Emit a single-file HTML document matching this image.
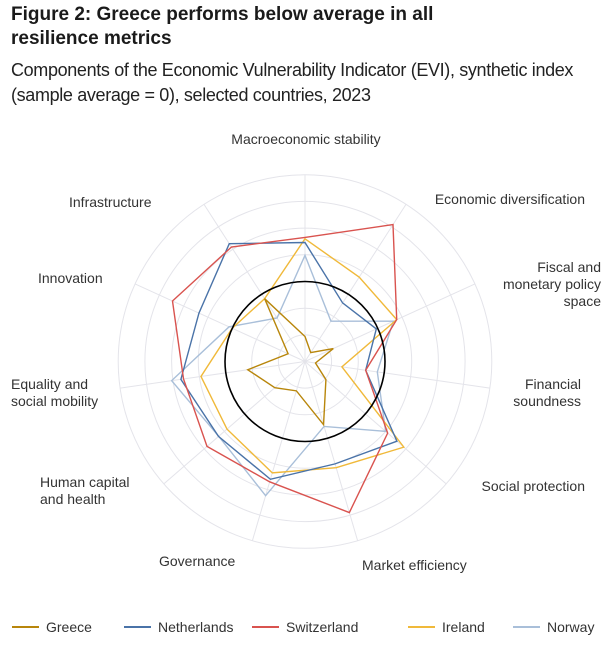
<!DOCTYPE html>
<html><head><meta charset="utf-8"><style>
body{margin:0;width:614px;height:663px;background:#fff;font-family:"Liberation Sans",sans-serif;overflow:hidden;position:relative}
.t{position:absolute;left:11px;top:3px;font-size:19px;font-weight:bold;line-height:24px;color:#1a1a1a}
.s{position:absolute;left:11px;top:58px;font-size:18px;letter-spacing:-0.35px;line-height:25px;color:#222;white-space:nowrap}
svg{position:absolute;left:0;top:0}
text{font-family:"Liberation Sans",sans-serif;font-size:14px;fill:#333}
</style></head><body>
<div class="t">Figure 2: Greece performs below average in all<br>resilience metrics</div>
<div class="s">Components of the Economic Vulnerability Indicator (EVI), synthetic index<br>(sample average = 0), selected countries, 2023</div>
<svg id="c" width="614" height="663"></svg>
<script>
const categories=["Macroeconomic stability","Economic diversification","Fiscal and monetary policy space","Financial soundness","Social protection","Market efficiency","Governance","Human capital and health","Equality and social mobility","Innovation","Infrastructure"];
const greece=[-2.06,-2.6,-1.83,-2.6,-1.96,-0.53,-1.85,-1.5,-0.83,-2.3,-0.2];
const netherlands=[1.46,-0.39,-0.06,-0.7,1.56,1.0,1.6,1.29,1.7,1.37,2.25];
const switzerland=[1.65,3.1,0.78,-0.7,1.1,2.9,1.7,1.86,1.6,2.46,2.1];
const ireland=[1.6,0.76,0.78,-1.6,1.9,1.15,1.35,0.87,0.94,0,-0.2];
const norway=[0.98,-1.2,0.64,-0.26,1.0,-0.46,2.24,1.28,2.05,0.13,-1.06];
const seriesNames=["Greece","Netherlands","Switzerland","Ireland","Norway"];
const ringValues=[-3,-2,-1,1,2,3,4];
const NS="http://www.w3.org/2000/svg";
const svg=document.getElementById('c');
const cx=305,cy=361.5,r0=80,unit=26.7;
function rad(v){return r0+unit*v;}
function ang(i){return i*2*Math.PI/categories.length;}
function pt(i,v){const a=ang(i),r=rad(v);return [cx+r*Math.sin(a),cy-r*Math.cos(a)];}
function mk(tag,attrs){const e=document.createElementNS(NS,tag);for(const k in attrs)e.setAttribute(k,attrs[k]);svg.appendChild(e);return e;}
ringValues.forEach(v=>{const e=mk('circle',{cx:cx,cy:cy,r:rad(v),fill:'none',stroke:'#e4e4ea','stroke-width':1});

});
categories.forEach((c,i)=>{const p=pt(i,4);const e=mk('line',{x1:cx,y1:cy,x2:p[0],y2:p[1],stroke:'#e4e4ea','stroke-width':1});

});
const colors=["#b8860b","#4a73a8","#d9534f","#f0b93a","#a9bfd9"];
const data=[greece,netherlands,switzerland,ireland,norway];
const order=[4,3,1,2,0];
order.forEach(k=>{const pts=data[k].map((v,i)=>pt(i,v).join(',')).join(' ');
const e=mk('polygon',{points:pts,fill:'none',stroke:colors[k],'stroke-width':1.4,'stroke-linejoin':'miter'});

});
const zc=mk('circle',{cx:cx,cy:cy,r:rad(0),fill:'none',stroke:'#000','stroke-width':1.6});


const labels=[[306,144,'middle',["Macroeconomic stability"]],[585,204,'end',["Economic diversification"]],[601,272,'end',["Fiscal and","monetary policy","space"]],[581,389,'end',["Financial","soundness"]],[585,491,'end',["Social protection"]],[362,570,'start',["Market efficiency"]],[159,566,'start',["Governance"]],[40,487,'start',["Human capital","and health"]],[11,389,'start',["Equality and","social mobility"]],[38,283,'start',["Innovation"]],[69,207,'start',["Infrastructure"]]];
labels.forEach(l=>{const e=mk('text',{x:l[0],y:l[1],'text-anchor':l[2]});


l[3].forEach((s,j)=>{const ts=document.createElementNS(NS,'tspan');ts.setAttribute('x',l[0]);ts.setAttribute('dy',j?17:0);ts.textContent=s;e.appendChild(ts);});});
const lx=[12,124,252,408,513];
seriesNames.forEach((n,k)=>{const g=document.createElementNS(NS,'g');svg.appendChild(g);


const ln=document.createElementNS(NS,'line');ln.setAttribute('x1',lx[k]);ln.setAttribute('x2',lx[k]+27);ln.setAttribute('y1',627);ln.setAttribute('y2',627);ln.setAttribute('stroke',colors[k]);ln.setAttribute('stroke-width',2);g.appendChild(ln);
const t=document.createElementNS(NS,'text');t.setAttribute('x',lx[k]+34);t.setAttribute('y',632);t.textContent=n;g.appendChild(t);});
</script>
</body></html>
